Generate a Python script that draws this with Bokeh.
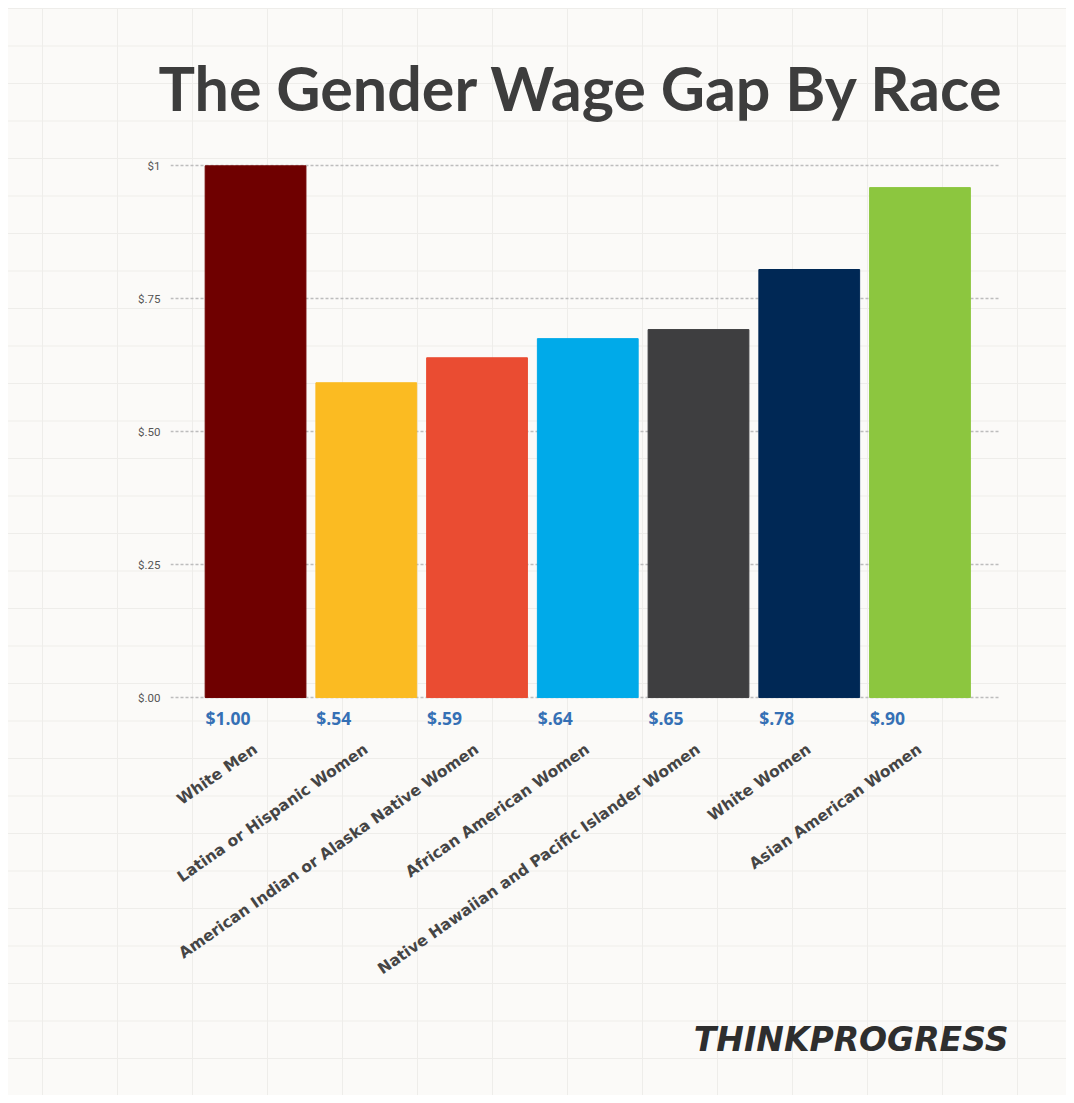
import math
from bokeh.plotting import figure
from bokeh.models import Range1d, FixedTicker, ColumnDataSource, Title
from bokeh.core.properties import value
from bokeh.embed import file_html
from bokeh.resources import INLINE

categories = ["White Men", "Latina or Hispanic Women", "American Indian or Alaska Native Women",
              "African American Women", "Native Hawaiian and Pacific Islander Women",
              "White Women", "Asian American Women"]
# bar heights as drawn in the graphic
bar_heights = [1.0, 0.592, 0.639, 0.675, 0.692, 0.805, 0.959]
# printed values
value_labels = ["$1.00", "$.54", "$.59", "$.64", "$.65", "$.78", "$.90"]
colors = ["#6f0000", "#fbbb22", "#ea4c32", "#00aae9", "#3e3e40", "#002855", "#8cc63f"]
y_ticks = [0, 0.25, 0.5, 0.75, 1.0]
y_tick_labels = ["$.00", "$.25", "$.50", "$.75", "$1"]

idx = list(range(len(categories)))
src = ColumnDataSource(dict(x=idx, top=bar_heights, color=colors, lab=value_labels))

W, H = 1058, 1087
p = figure(width=W, height=H, output_backend="svg", toolbar_location=None,
           x_range=Range1d(-0.768, 6.727), y_range=Range1d(-0.0714, 1.01),
           min_border_left=162, min_border_right=66, min_border_top=152, min_border_bottom=360)

p.background_fill_alpha = 0
p.border_fill_alpha = 0
p.outline_line_color = None
p.styles = {
    "margin": "8px",
    "background-color": "#fbfaf8",
    "background-image": "linear-gradient(#eeedea 1px, transparent 1px), linear-gradient(90deg, #eeedea 1px, transparent 1px)",
    "background-size": "75px 37.5px",
    "background-position": "34px 0px",
}

p.vbar(x="x", top="top", bottom=0, width=0.91, color="color", source=src)

p.text(x="x", y=0, text="lab", source=src, x_offset=-50, y_offset=8,
       text_align="left", text_baseline="top", text_font=value("Open Sans"),
       text_font_style="bold", text_font_size="17.5px", text_color="#3570b5")

# axes
p.xaxis.ticker = FixedTicker(ticks=idx)
p.xaxis.major_label_overrides = {i: c for i, c in zip(idx, categories)}
p.xaxis.major_label_orientation = math.radians(35)
p.xaxis.major_label_text_font = "DejaVu Sans"
p.xaxis.major_label_text_font_style = "bold"
p.xaxis.major_label_text_font_size = "15.5px"
p.xaxis.major_label_text_color = "#454545"
p.xaxis.major_label_standoff = 6
p.xaxis.axis_line_color = None
p.xaxis.major_tick_line_color = None
p.xaxis.minor_tick_line_color = None

p.yaxis.ticker = FixedTicker(ticks=y_ticks)
p.yaxis.major_label_overrides = {t: l for t, l in zip(y_ticks, y_tick_labels)}
p.yaxis.major_label_text_font = "Roboto"
p.yaxis.major_label_text_font_size = "11.5px"
p.yaxis.major_label_text_color = "#555555"
p.yaxis.major_label_standoff = 4
p.yaxis.axis_line_color = None
p.yaxis.major_tick_line_color = None
p.yaxis.minor_tick_line_color = None

p.xgrid.grid_line_color = None
p.ygrid.ticker = FixedTicker(ticks=y_ticks)
p.ygrid.grid_line_color = "#bdbdbd"
p.ygrid.grid_line_dash = "3 2"
p.ygrid.grid_line_width = 1.5

p.title.text = "The Gender Wage Gap By Race"
p.title.text_font = "Lato"
p.title.text_font_style = "bold"
p.title.text_font_size = "61px"
p.title.text_color = "#3d3d3d"
p.title.align = "left"
p.title.vertical_align = "top"
p.title.offset = -12
p.title.standoff = 69

logo = Title(text="THINKPROGRESS", align="right", text_font="DejaVu Sans",
             text_font_style="bold italic", text_font_size="33px", text_color="#2e2e2e",
             standoff=58, offset=-8)
p.add_layout(logo, "below")

open("out.html", "w").write(file_html(p, INLINE))
